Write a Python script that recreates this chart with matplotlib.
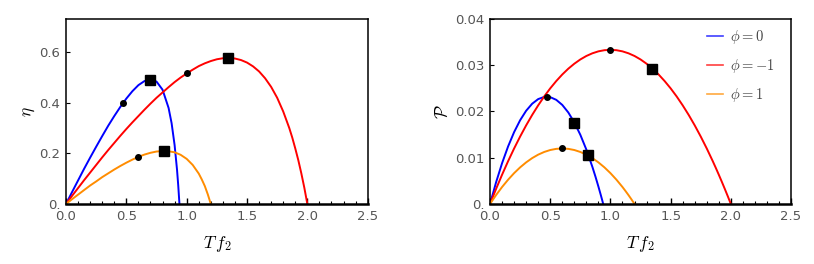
import numpy as np
import matplotlib.pyplot as plt

plt.rcParams['mathtext.fontset'] = 'cm'
plt.rcParams['font.family'] = ['DejaVu Sans']

# values, x axis is T f_2
tf_blue = [0, .05, .1, .15, .2, .25, .3, .35, .4, .45, .5, .55, .6, .65, .7, .75, .8, .85, .875, .9, .92, .93, .94]
eta_blue = [0, .047, .093, .139, .183, .226, .268, .309, .347, .383, .416, .445, .469, .485, .491, .483, .451, .379,
            .319, .232, .135, .073, 0]
P_blue = [0, .00467, .00882, .01244, .01554, .01811, .02016, .02168, .02268, .02315, .0231, .02252, .02142, .01979,
          .01764, .01496, .01176, .00803, .00597, .00378, .00193, .00098, 0]

tf_red = [0, .05, .1, .15, .2, .25, .3, .35, .4, .45, .5, .55, .6, .65, .7, .75, .8, .85, .9, .95, 1.0, 1.05, 1.1,
          1.15, 1.2, 1.25, 1.3, 1.35, 1.4, 1.45, 1.5, 1.55, 1.6, 1.65, 1.7, 1.75, 1.8, 1.85, 1.875, 1.9, 1.925, 1.95,
          1.975, 2.0]
eta_red = [0, .032, .063, .094, .124, .154, .184, .213, .241, .269, .296, .322, .347, .372, .396, .419, .440, .461,
           .481, .499, .515, .530, .544, .555, .564, .571, .575, .576, .574, .568, .558, .543, .523, .496, .462, .419,
           .365, .300, .262, .219, .173, .121, .064, 0]
P_red = [0, .00325, .00633, .00925, .012, .01458, .017, .01925, .02133, .02325, .025, .02658, .028, .02925, .03033,
         .03125, .032, .03258, .033, .03325, .03333, .03325, .033, .03258, .032, .03125, .03033, .02925, .028, .02658,
         .025, .02325, .02133, .01925, .017, .01458, .012, .00925, .00781, .00633, .00481, .00325, .00165, 0]

tf_orange = [0, .05, .1, .15, .2, .25, .3, .35, .4, .45, .5, .55, .6, .65, .7, .75, .8, .85, .9, .95, 1.0, 1.05, 1.1,
             1.125, 1.15, 1.175, 1.2]
eta_orange = [0, .019, .037, .055, .073, .089, .106, .121, .136, .150, .163, .175, .186, .195, .202, .207, .209, .208,
              .204, .194, .178, .154, .120, .097, .071, .038, 0]
P_orange = [0, .00192, .00367, .00525, .00667, .00792, .009, .00992, .01067, .01125, .01167, .01192, .012, .01192,
            .01167, .01125, .01067, .00992, .009, .00792, .00667, .00525, .00367, .00281, .00192, .00098, 0]

# marked points: dots at max power, squares at max efficiency
dot_x = [0.47, 1.0, 0.6]
dot_eta = [0.3975, 0.515, 0.186]
dot_P = [0.0232, 0.0333, 0.012]
sq_x = [0.70, 1.345, 0.813]
sq_eta = [0.491, 0.576, 0.209]
sq_P = [0.0176, 0.0292, 0.0105]

labels = [r'$\phi = 0$', r'$\phi = -1$', r'$\phi = 1$']
colors = ['#0000ff', '#ff0000', '#ff8c00']
xticks = [0, 0.5, 1.0, 1.5, 2.0, 2.5]
xticklabels = ['0.0', '0.5', '1.0', '1.5', '2.0', '2.5']

fig = plt.figure(figsize=(8.14, 2.64), dpi=100)
ax1 = fig.add_axes([0.0811, 0.2273, 0.3706, 0.7008])
ax2 = fig.add_axes([0.602, 0.2273, 0.3698, 0.7008])

curves_eta = [(tf_blue, eta_blue), (tf_red, eta_red), (tf_orange, eta_orange)]
curves_P = [(tf_blue, P_blue), (tf_red, P_red), (tf_orange, P_orange)]

for (x, y), c, lab in zip(curves_eta, colors, labels):
    ax1.plot(x, y, color=c, lw=1.4, label=lab)
for (x, y), c, lab in zip(curves_P, colors, labels):
    ax2.plot(x, y, color=c, lw=1.4, label=lab)

ax1.plot(dot_x, dot_eta, 'o', color='black', ms=4, ls='none', zorder=5)
ax1.plot(sq_x, sq_eta, 's', color='black', ms=6.5, ls='none', zorder=5)
ax2.plot(dot_x, dot_P, 'o', color='black', ms=4, ls='none', zorder=5)
ax2.plot(sq_x, sq_P, 's', color='black', ms=6.5, ls='none', zorder=5)

ax1.set_ylim(0, 0.73)
ax1.set_yticks([0, 0.2, 0.4, 0.6])
ax1.set_yticklabels(['0.', '0.2', '0.4', '0.6'])
ax1.set_ylabel(r'$\eta$', fontsize=12.5, labelpad=2)

ax2.set_ylim(0, 0.04)
ax2.set_yticks([0, 0.01, 0.02, 0.03, 0.04])
ax2.set_yticklabels(['0.', '0.01', '0.02', '0.03', '0.04'])
ax2.set_ylabel(r'$\mathcal{P}$', fontsize=12.5, labelpad=2)

for ax in (ax1, ax2):
    ax.set_xlim(0, 2.5)
    ax.set_xticks(xticks)
    ax.set_xticklabels(xticklabels)
    ax.set_xticks(np.arange(0, 2.51, 0.1), minor=True)
    ax.set_xlabel(r'$T\,f_2$', fontsize=12.5, labelpad=8)
    ax.tick_params(axis='x', which='major', direction='in', length=4, width=1, pad=4,
                   labelsize=9.5, labelcolor='#555555')
    ax.tick_params(axis='x', which='minor', direction='in', length=2.5, width=0.8)
    ax.tick_params(axis='y', which='major', direction='in', length=3, width=0.8, pad=4,
                   labelsize=9.5, labelcolor='#555555')
    for s in ax.spines.values():
        s.set_linewidth(1.1)
        s.set_color('black')
    ax.spines['bottom'].set_linewidth(1.8)

leg = ax2.legend(loc='upper right', bbox_to_anchor=(0.99, 1.02), frameon=False, handlelength=1.1,
                 handletextpad=0.5, labelspacing=0.75, fontsize=10.5, labelcolor='#444444')
for line in leg.get_lines():
    line.set_linewidth(1.2)
    line.set_alpha(0.75)

fig.savefig('out.png', dpi=100)
